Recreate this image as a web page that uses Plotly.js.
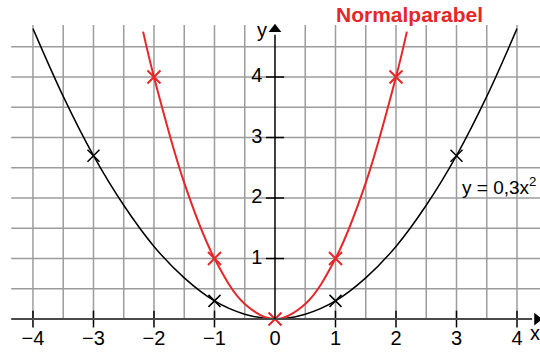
<!DOCTYPE html>
<html>
<head>
<meta charset="utf-8">
<script src="https://cdn.plot.ly/plotly-3.0.1.min.js"></script>
<style>
  html, body { margin: 0; padding: 0; background: #fff; }
  #plot { width: 540px; height: 352px; }
</style>
</head>
<body>
<div id="plot"></div>
<script>
// y = 0,3x^2 (black)
let blackX = [-4, -3.5, -3, -2.5, -2, -1.5, -1, -0.5, 0, 0.5, 1, 1.5, 2, 2.5, 3, 3.5, 4];
let blackY = [4.8, 3.68, 2.7, 1.88, 1.2, 0.68, 0.3, 0.08, 0, 0.08, 0.3, 0.68, 1.2, 1.88, 2.7, 3.68, 4.8];
let blackMarkX = [-3, -1, 1, 3];
let blackMarkY = [2.7, 0.3, 0.3, 2.7];

// Normalparabel (red)
let redX = [-2.18, -2, -1.5, -1, -0.5, 0, 0.5, 1, 1.5, 2, 2.18];
let redY = [4.75, 4, 2.25, 1, 0.25, 0, 0.25, 1, 2.25, 4, 4.75];
let redMarkX = [-2, -1, 0, 1, 2];
let redMarkY = [4, 1, 0, 1, 4];

// axis ticks
let xTicks = [-4, -3, -2, -1, 1, 2, 3, 4];
let xTickLabels = ["\u22124", "\u22123", "\u22122", "\u22121", "1", "2", "3", "4"];
let yTicks = [1, 2, 3, 4];
let yTickLabels = ["1", "2", "3", "4"];

const RED = "#e62629";
const FONT = "Liberation Sans, Arial, sans-serif";

// grid lines every 0.5
let shapes = [];
for (let gx = -4; gx <= 4; gx += 0.5) {
    if (gx === 0) continue;
    shapes.push({type: "line", layer: "below", x0: gx, x1: gx, y0: 0, y1: 4.86,
        line: {color: "#9c9c9c", width: 1.5}});
}
for (let gy = 0.5; gy <= 4.5; gy += 0.5) {
    shapes.push({type: "line", layer: "below", x0: -4.36, x1: 4.4, y0: gy, y1: gy,
        line: {color: "#9c9c9c", width: 1.5}});
}
// axis lines
shapes.push({type: "line", x0: -4.36, x1: 4.25, y0: 0, y1: 0, line: {color: "#4a4a4a", width: 2}});
shapes.push({type: "line", x0: 0, x1: 0, y0: 0, y1: 4.7, line: {color: "#000", width: 1.5}});

let traces = [
    {x: blackX, y: blackY, mode: "lines", line: {color: "#000", width: 1.5, shape: "spline"}},
    {x: redX, y: redY, mode: "lines", line: {color: RED, width: 2, shape: "spline"}},
    {x: xTicks, y: xTicks.map(() => 0), mode: "markers",
        marker: {symbol: "line-ns", size: 12, line: {color: "#000", width: 1.5}}},
    {x: yTicks.map(() => 0), y: yTicks, mode: "markers",
        marker: {symbol: "line-ew", size: 13, line: {color: "#000", width: 1.5}}},
    // arrow heads of the axes
    {x: [4.33], y: [0], mode: "markers",
        marker: {symbol: "triangle-right", size: 11, color: "#000"}},
    {x: [0], y: [4.79], mode: "markers",
        marker: {symbol: "triangle-up", size: 11, color: "#000"}},
    {x: blackMarkX, y: blackMarkY, mode: "markers",
        marker: {symbol: "x-thin", size: 12, line: {color: "#000", width: 1.5}}},
    {x: redMarkX, y: redMarkY, mode: "markers",
        marker: {symbol: "x-thin", size: 13, line: {color: RED, width: 2}}},
    {x: xTicks.concat([0]), y: xTicks.map(() => -0.35).concat([-0.35]), mode: "text",
        text: xTickLabels.concat(["0"]), textposition: "middle center",
        textfont: {family: FONT, size: 20, color: "#000"}},
    {x: yTicks.map(() => -0.3), y: yTicks, mode: "text", text: yTickLabels,
        textposition: "middle center", textfont: {family: FONT, size: 20, color: "#000"}}
];

let annotations = [
    {x: -0.215, y: 4.78, text: "y", showarrow: false, font: {family: FONT, size: 20, color: "#000"}},
    {x: 4.3, y: -0.23, text: "x", showarrow: false, font: {family: FONT, size: 20, color: "#000"}},
    {x: 2.23, y: 5.03, text: "<b>Normalparabel</b>", showarrow: false,
        font: {family: FONT, size: 21, color: RED}},
    {x: 3.05, y: 2.2, xanchor: "left", text: "y = 0,3x<sup>2</sup>", showarrow: false,
        font: {family: FONT, size: 19, color: "#000"}}
];

let layout = {
    width: 540,
    height: 352,
    margin: {l: 0, r: 0, t: 0, b: 0},
    paper_bgcolor: "#fff",
    plot_bgcolor: "#fff",
    showlegend: false,
    xaxis: {range: [-4.545, 4.38], visible: false, fixedrange: true},
    yaxis: {range: [-0.545, 5.273], visible: false, fixedrange: true},
    shapes: shapes,
    annotations: annotations
};

Plotly.newPlot("plot", traces, layout, {displayModeBar: false, staticPlot: true});
</script>
</body>
</html>
